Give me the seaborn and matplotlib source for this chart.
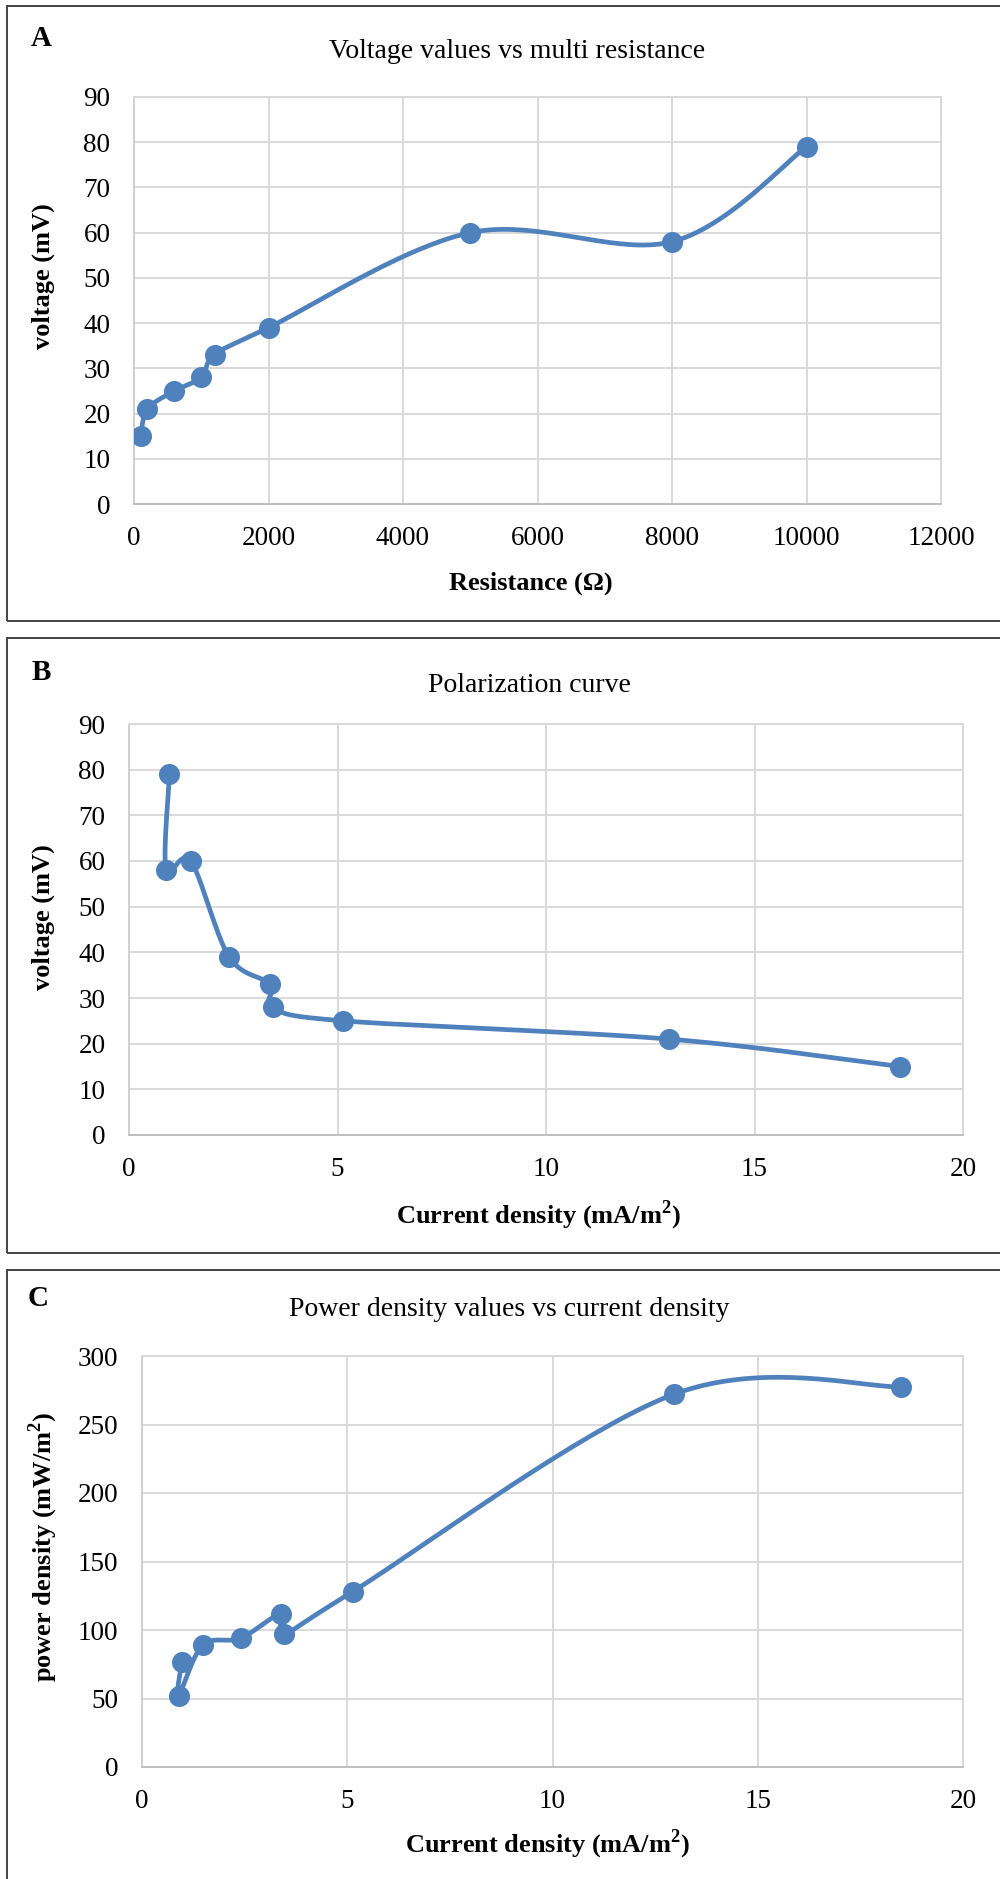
import numpy as np
import matplotlib
matplotlib.use("Agg")
import matplotlib.pyplot as plt
import seaborn as sns
import pandas as pd
from matplotlib.patches import Rectangle

# ---------------- data ----------------
resistance = [100, 200, 600, 1000, 1200, 2000, 5000, 8000, 10000]
voltage = [15, 21, 25, 28, 33, 39, 60, 58, 79]
current_density = [18.5, 12.95, 5.13, 3.45, 3.39, 2.40, 1.48, 0.89, 0.97]
power_density = [277.5, 272, 128, 97, 112, 94, 89, 52, 77]

titles = ["Voltage values vs multi resistance", "Polarization curve",
          "Power density values vs current density"]
panel_letters = ["A", "B", "C"]
xlabels = ["Resistance (\u03a9)", "Current density (mA/m$^\\mathregular{2}$)",
           "Current density (mA/m$^\\mathregular{2}$)"]
ylabels = ["voltage (mV)", "voltage (mV)", "power density (mW/m$^\\mathregular{2}$)"]
xticks_list = [list(range(0, 12001, 2000)), [0, 5, 10, 15, 20], [0, 5, 10, 15, 20]]
yticks_list = [list(range(0, 91, 10)), list(range(0, 91, 10)), list(range(0, 301, 50))]

# ---------------- style ----------------
sns.set_theme(style="white")
plt.rcParams['font.family'] = ['Liberation Serif', 'DejaVu Serif']
plt.rcParams['mathtext.fontset'] = 'custom'
plt.rcParams['mathtext.rm'] = 'Liberation Serif'
plt.rcParams['mathtext.bf'] = 'Liberation Serif:bold'

W, H = 1000, 1879
fig = plt.figure(figsize=(W / 100, H / 100), dpi=100)
fig.patch.set_facecolor("white")

LINE = "#4f81bd"
GRID = "#d9d9d9"


def smooth(x, y, n=40):
    """Excel-style smoothed line (Catmull-Rom Bezier) through the points."""
    P = np.column_stack([x, y]).astype(float)
    pts = [P[0]]
    for i in range(len(P) - 1):
        p0 = P[i - 1] if i > 0 else P[i]
        p1 = P[i]
        p2 = P[i + 1]
        p3 = P[i + 2] if i + 2 < len(P) else P[i + 1]
        c1 = p1 + (p2 - p0) / 6.0
        c2 = p2 - (p3 - p1) / 6.0
        t = np.linspace(0, 1, n)[1:, None]
        seg = (1 - t) ** 3 * p1 + 3 * (1 - t) ** 2 * t * c1 + 3 * (1 - t) * t ** 2 * c2 + t ** 3 * p2
        pts.extend(seg)
    arr = np.array(pts)
    return arr[:, 0], arr[:, 1]


def px_axes(left, right, top, bottom):
    return fig.add_axes([left / W, 1 - bottom / H, (right - left) / W, (bottom - top) / H])


panels = [
    dict(x=resistance, y=voltage, ax=(134, 941, 97, 504), box=(7, 6, 621),
         title=(517, 51), letter=(41, 38), xl=(531, 583), yl=(43, 276)),
    dict(x=current_density, y=voltage, ax=(129, 963, 724, 1135), box=(7, 638, 1253),
         title=(529, 685), letter=(41, 673), xl=(539, 1215), yl=(43, 917)),
    dict(x=current_density, y=power_density, ax=(142, 963, 1356, 1767), box=(7, 1270, 1885),
         title=(509, 1309), letter=(38, 1299), xl=(548, 1844), yl=(43, 1547)),
]

for i, p in enumerate(panels):
    # panel border box
    bx, btop, bbot = p["box"]
    fig.add_artist(Rectangle((bx / W, 1 - bbot / H), (W + 20 - bx) / W, (bbot - btop) / H,
                             transform=fig.transFigure, fill=False,
                             edgecolor="#444444", linewidth=1.4))

    ax = px_axes(*p["ax"])
    df = pd.DataFrame({"x": p["x"], "y": p["y"]})
    sx, sy = smooth(df["x"], df["y"])
    curve = pd.DataFrame({"x": sx, "y": sy})
    sns.lineplot(data=curve, x="x", y="y", sort=False, estimator=None, ax=ax,
                 color=LINE, linewidth=3.4, zorder=3)
    sns.scatterplot(data=df, x="x", y="y", ax=ax, color=LINE, s=230,
                    edgecolor=LINE, linewidth=0, zorder=4)

    xt, yt = xticks_list[i], yticks_list[i]
    ax.set_xlim(xt[0], xt[-1])
    ax.set_ylim(yt[0], yt[-1])
    ax.set_xticks(xt)
    ax.set_yticks(yt)
    ax.grid(True, color=GRID, linewidth=1.4)
    ax.set_axisbelow(True)
    for s in ax.spines.values():
        s.set_color(GRID)
        s.set_linewidth(1.4)
    ax.spines["bottom"].set_color("#bfbfbf")
    ax.spines["left"].set_color("#d0d0d0")
    ax.tick_params(length=0, labelsize=19.5, colors="black")
    ax.tick_params(axis="x", pad=16)
    ax.tick_params(axis="y", pad=17)
    ax.set_xlabel("")
    ax.set_ylabel("")

    fig.text(p["title"][0] / W, 1 - p["title"][1] / H, titles[i], ha="center", va="center",
             fontsize=20, color="black")
    fig.text(p["letter"][0] / W, 1 - p["letter"][1] / H, panel_letters[i], ha="center",
             va="center", fontsize=21, fontweight="bold", color="black")
    fig.text(p["xl"][0] / W, 1 - p["xl"][1] / H, xlabels[i], ha="center", va="center",
             fontsize=19, fontweight="bold", color="black")
    fig.text(p["yl"][0] / W, 1 - p["yl"][1] / H, ylabels[i], ha="center", va="center",
             rotation=90, fontsize=19, fontweight="bold", color="black")

fig.savefig("out.png", dpi=100, facecolor="white")
